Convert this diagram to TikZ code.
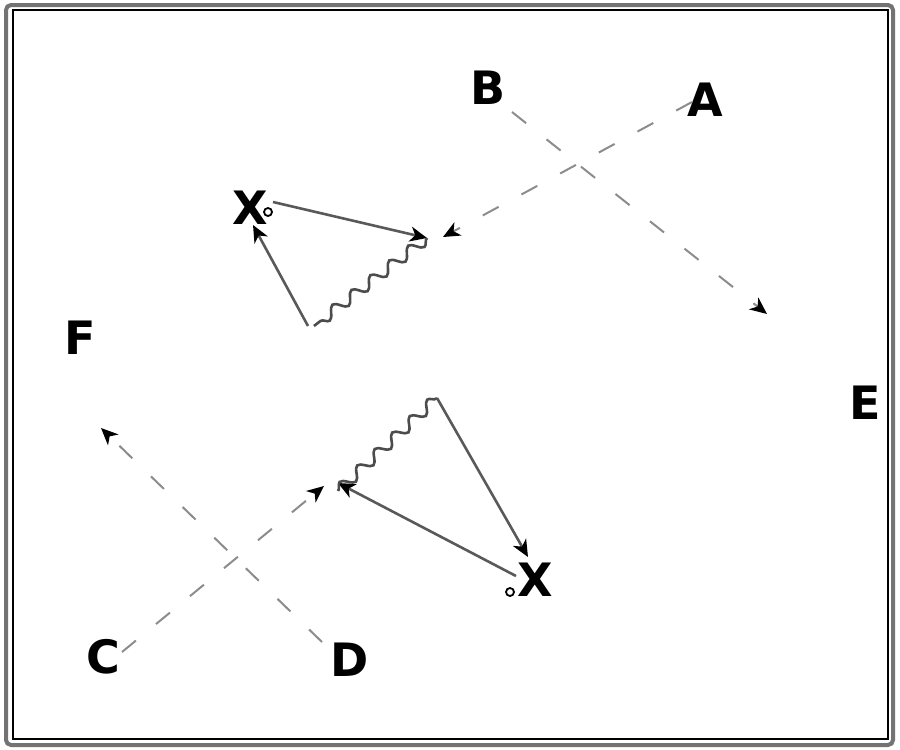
\documentclass[tikz,border=0pt]{standalone}
\usepackage{fontspec}
\setmainfont{DejaVu Sans}
\usetikzlibrary{arrows.meta,decorations.pathmorphing}
\begin{document}
\begin{tikzpicture}[x=1pt,y=-1pt,
  lbl/.style={font=\fontsize{46}{50}\selectfont\bfseries, inner sep=1pt},
  dline/.style={draw=black!45, line width=2pt, dash pattern=on 18pt off 26pt},
  sline/.style={draw=black!65, line width=2.6pt},
  wline/.style={draw=black!70, line width=2.6pt, decorate, decoration={snake, segment length=24pt, amplitude=5.5pt}},
  tip/.style={-{Stealth[length=17pt,width=15pt,inset=5pt,black]}},
  smallcirc/.style={circle, draw=black, line width=1.8pt, minimum size=8pt, inner sep=0pt}
]
\useasboundingbox (0,0) rectangle (900,750);
% frame
\draw[black!55, line width=4pt, rounded corners=5pt] (6,5) rectangle (893,745);
\draw[black, line width=1.2pt] (13,10) rectangle (888,739);

% labels
\node[lbl] (A) at (705,100) {A};
\node[lbl] (B) at (488,88) {B};
\node[lbl] (C) at (103,657) {C};
\node[lbl] (D) at (350,660) {D};
\node[lbl] (E) at (865,403) {E};
\node[lbl] (F) at (80,338) {F};
\node[lbl] (X1) at (250,208) {X};
\node[lbl] (X2) at (535,580) {X};
\node[smallcirc] (c1) at (268,212) {};
\node[smallcirc] (c2) at (510,592) {};

% top scattering
\coordinate (endA) at (692,102);
\coordinate (tipA) at (443,237);
\coordinate (endB) at (512,112);
\coordinate (tipB) at (767,314);
\coordinate (V1) at (427,238);
\coordinate (sX1) at (273,202);
\coordinate (P1) at (314,326);
\coordinate (tX1) at (253,225);

\draw[dline,tip] (endA) -- (tipA);
\draw[dline,tip] (endB) -- (tipB);
\draw[sline,tip] (sX1) -- (V1);
\draw[wline] (V1) -- (P1);
\draw[sline,tip] ([xshift=-6pt]P1) -- (tX1);

% bottom scattering
\coordinate (endC) at (122,652);
\coordinate (tipC) at (324,486);
\coordinate (endD) at (322,642);
\coordinate (tipD) at (101,428);
\coordinate (V2) at (338,483);
\coordinate (sX2) at (516,576);
\coordinate (P2) at (437,398);
\coordinate (tX2) at (528,557);

\draw[dline,tip] (endC) -- (tipC);
\draw[dline,tip] (endD) -- (tipD);
\draw[sline,tip] (sX2) -- (V2);
\draw[wline] ([yshift=-8pt]V2) -- (P2);
\draw[sline,tip] (P2) -- (tX2);
\end{tikzpicture}
\end{document}
